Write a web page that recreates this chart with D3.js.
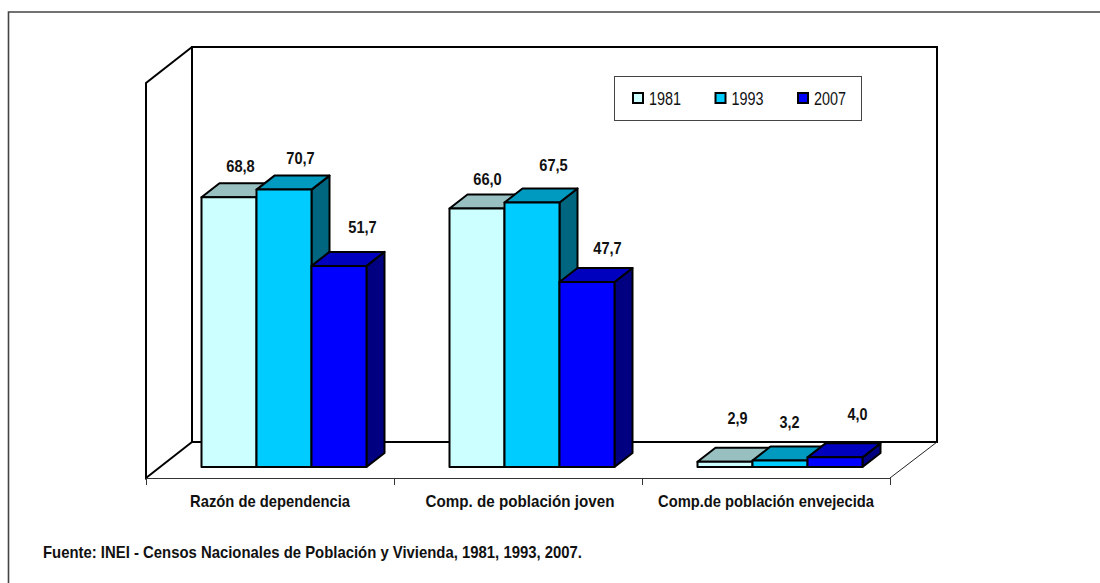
<!DOCTYPE html>
<html>
<head>
<meta charset="utf-8">
<script src="https://cdn.jsdelivr.net/npm/d3@7"></script>
<style>
  html, body { margin: 0; padding: 0; background: #fff; }
  svg { display: block; }
  text { font-family: "Liberation Sans", Arial, sans-serif; fill: #111; }
</style>
</head>
<body>
<div id="chart"></div>
<script>
const categories = ["Razón de dependencia", "Comp. de población joven", "Comp.de población envejecida"];
const years = ["1981", "1993", "2007"];
const values1981 = [68.8, 66.0, 2.9];
const values1993 = [70.7, 67.5, 3.2];
const values2007 = [51.7, 47.7, 4.0];
const source = "Fuente: INEI - Censos Nacionales de Población y Vivienda, 1981, 1993, 2007.";

const width = 1100;
const height = 583;

const svg = d3.select("#chart").append("svg").attr("width", width).attr("height", height);

// plot box in pixels
const frontLeft = 146;
const frontRight = 890;
const floorY = 478;
const baseY = 467;
const depthX = 46;
const depthY = 36;
const barDepthX = 18;
const barDepthY = 14;

const x0 = d3.scaleBand().domain(categories).range([frontLeft, frontRight]);
const x1 = d3.scaleBand().domain(years).range([55.5, 220.5]);
// the value axis does not start at 0: short bars sit well under their nominal height
const y = d3.scaleLinear().domain([1.6, 100]).range([baseY, 72]);

const faces = {
  1981: { front: "#ccffff", top: "#99c0c0", side: "#668080" },
  1993: { front: "#00ccff", top: "#0099bf", side: "#006680" },
  2007: { front: "#0000ff", top: "#0000bf", side: "#000080" },
};

const series = [
  { year: "1981", values: values1981, labelDx: [11.5, 10.5, 12.5], labelDy: [25, 23, 38] },
  { year: "1993", values: values1993, labelDx: [16.5, 21.5, 9.5], labelDy: [26, 31, 33] },
  { year: "2007", values: values2007, labelDx: [23.5, 20.5, 22.5], labelDy: [33, 28, 37] },
];

// outer frame: only the top and left edges fall inside the picture
svg.append("path")
  .attr("d", d3.line()([[8.5, height], [8.5, 12], [width, 12]]))
  .attr("fill", "none").attr("stroke", "#444").attr("stroke-width", 1.6);

// walls and floor
const backLeft = frontLeft + depthX;
const backRight = frontRight + depthX + 1;
const backY = floorY - depthY;
const wallFrontTop = y(100) + 11;
const wallBackTop = wallFrontTop - depthY;

const walls = svg.append("g").attr("fill", "none").attr("stroke", "#000").attr("stroke-width", 2);
walls.append("path").attr("d", d3.line()([
  [backLeft, backY], [frontLeft, floorY], [frontLeft, wallFrontTop], [backLeft, wallBackTop],
]));
walls.append("path").attr("d", d3.line()([
  [backLeft, wallBackTop], [backRight, wallBackTop], [backRight, backY], [backLeft, backY],
]) + "Z");
svg.append("path")
  .attr("d", d3.line()([[frontRight, floorY], [backRight, backY]]))
  .attr("fill", "none").attr("stroke", "#222").attr("stroke-width", 1);

// category axis
const axis = svg.append("g").attr("stroke", "#333").attr("stroke-width", 1);
axis.append("line").attr("x1", frontLeft).attr("x2", frontRight).attr("y1", floorY + 0.5).attr("y2", floorY + 0.5);
[...categories.map((c) => x0(c)), frontRight].forEach((t) => {
  axis.append("line").attr("x1", t + 0.5).attr("x2", t + 0.5).attr("y1", floorY).attr("y2", floorY + 7);
});
const catWidths = [160, 189, 216];
svg.selectAll("text.cat")
  .data(categories)
  .join("text")
  .attr("class", "cat")
  .attr("x", (d, i) => x0(d) + x0.bandwidth() / 2 + (i === 1 ? 2 : 0))
  .attr("y", 507)
  .attr("text-anchor", "middle")
  .attr("font-size", 17)
  .attr("font-weight", 700)
  .attr("textLength", (d, i) => catWidths[i])
  .attr("lengthAdjust", "spacingAndGlyphs")
  .text((d) => d);

// bars, later years drawn over earlier ones
const bars = svg.append("g").attr("stroke", "#000").attr("stroke-width", 2).attr("stroke-linejoin", "round");
series.forEach((s) => {
  s.values.forEach((v, i) => {
    const left = x0(categories[i]) + x1(s.year);
    const right = left + x1.bandwidth();
    const top = y(v);
    const c = faces[s.year];
    const g = bars.append("g");
    g.append("path").attr("fill", c.side).attr("d", d3.line()([
      [right, top], [right + barDepthX, top - barDepthY], [right + barDepthX, baseY - barDepthY], [right, baseY],
    ]) + "Z");
    g.append("path").attr("fill", c.top).attr("d", d3.line()([
      [left, top], [left + barDepthX, top - barDepthY], [right + barDepthX, top - barDepthY], [right, top],
    ]) + "Z");
    g.append("rect").attr("fill", c.front)
      .attr("x", left).attr("y", top)
      .attr("width", x1.bandwidth()).attr("height", baseY - top);
  });
});

// data labels
const labelText = (d) => d3.format(".1f")(d).replace(".", ",");
series.forEach((s) => {
  svg.selectAll(`text.v${s.year}`)
    .data(s.values)
    .join("text")
    .attr("class", `v${s.year}`)
    .attr("x", (d, i) => x0(categories[i]) + x1(s.year) + x1.bandwidth() / 2 + s.labelDx[i])
    .attr("y", (d, i) => y(d) - s.labelDy[i])
    .attr("text-anchor", "middle")
    .attr("font-size", 17)
    .attr("font-weight", 700)
    .attr("textLength", (d) => (labelText(d).length === 4 ? 28.5 : 20))
    .attr("lengthAdjust", "spacingAndGlyphs")
    .text(labelText);
});

// legend
const legend = svg.append("g");
legend.append("rect")
  .attr("x", 614.5).attr("y", 76.5).attr("width", 247).attr("height", 44)
  .attr("fill", "#fff").attr("stroke", "#444").attr("stroke-width", 1);
const legendX = d3.scalePoint().domain(years).range([633, 798]);
legend.selectAll("rect.key")
  .data(years)
  .join("rect")
  .attr("class", "key")
  .attr("x", (d) => legendX(d)).attr("y", 93)
  .attr("width", 10).attr("height", 10)
  .attr("fill", (d) => faces[d].front)
  .attr("stroke", "#000").attr("stroke-width", 2);
legend.selectAll("text.lab")
  .data(years)
  .join("text")
  .attr("class", "lab")
  .attr("x", (d) => legendX(d) + 16)
  .attr("y", 105)
  .attr("font-size", 17.5)
  .attr("textLength", 32)
  .attr("lengthAdjust", "spacingAndGlyphs")
  .text((d) => d);

svg.append("text")
  .attr("x", 43).attr("y", 558)
  .attr("font-size", 17)
  .attr("font-weight", 700)
  .attr("textLength", 539)
  .attr("lengthAdjust", "spacingAndGlyphs")
  .text(source);
</script>
</body>
</html>
